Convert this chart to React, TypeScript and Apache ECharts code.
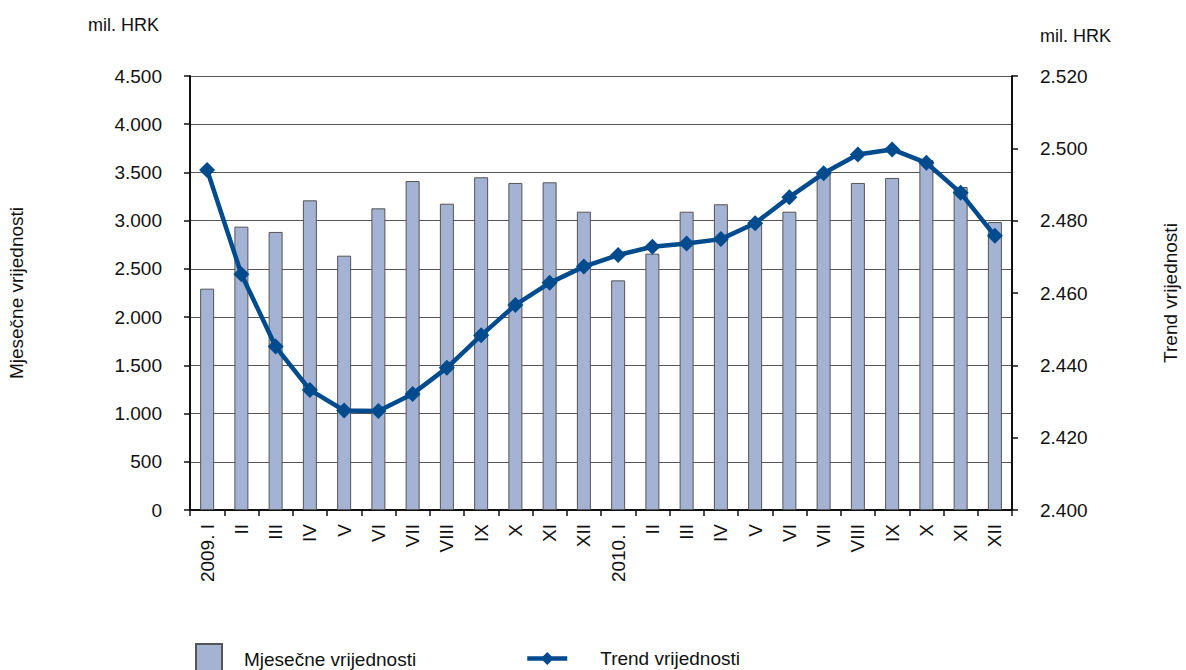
import React, { useEffect, useRef } from "react";
import * as echarts from "echarts";

const categories = [
  "2009. I", "II", "III", "IV", "V", "VI", "VII", "VIII", "IX", "X", "XI", "XII",
  "2010. I", "II", "III", "IV", "V", "VI", "VII", "VIII", "IX", "X", "XI", "XII",
];
const monthlyValues = [
  2295, 2938, 2883, 3211, 2637, 3128, 3411, 3176, 3450, 3391, 3398, 3093,
  2381, 2658, 3093, 3170, 2985, 3093, 3490, 3391, 3443, 3629, 3349, 2986,
];
const trendValues = [
  2494.0, 2465.2, 2445.2, 2433.2, 2427.5, 2427.4, 2432.1, 2439.3, 2448.3, 2456.7, 2462.8, 2467.3,
  2470.5, 2472.8, 2473.7, 2474.9, 2479.3, 2486.5, 2493.1, 2498.3, 2499.7, 2496.0, 2487.7, 2475.8,
];
const seriesNames = ["Mjesečne vrijednosti", "Trend vrijednosti"];
const unitLabel = "mil. HRK";

const FONT = "'Liberation Sans Narrow', 'Liberation Sans', Arial, sans-serif";
const fmt = (v: number) => {
  const s = String(Math.round(v));
  return s.replace(/\B(?=(\d{3})+(?!\d))/g, ".");
};

export default function App() {
  const ref = useRef<HTMLDivElement>(null);
  useEffect(() => {
    if (!ref.current) return;
    const chart = echarts.init(ref.current, null, { renderer: "svg" });
    chart.setOption({
      animation: false,
      backgroundColor: "#ffffff",
      textStyle: { fontFamily: FONT },
      grid: {
        left: 190,
        right: 174,
        top: 76,
        bottom: 160,
        containLabel: false,
        outerBoundsMode: "none",
      },
      legend: [
        {
          data: [{ name: seriesNames[0], icon: "rect" }],
          left: 195,
          top: 643,
          itemWidth: 26,
          itemHeight: 30,
          padding: 0,
          selectedMode: false,
          textStyle: { fontSize: 19, color: "#111", fontFamily: FONT, padding: [0, 0, 0, 17] },
        },
        {
          data: [seriesNames[1]],
          left: 525,
          top: 649,
          itemWidth: 40,
          itemHeight: 16,
          padding: 0,
          selectedMode: false,
          lineStyle: { width: 4.5 },
          textStyle: { fontSize: 19, color: "#111", fontFamily: FONT, padding: [0, 0, 0, 28] },
        },
      ],
      graphic: [
        { type: "text", left: 88, top: 16, style: { text: unitLabel, font: `18px ${FONT}`, fill: "#111" } },
        { type: "text", left: 1040, top: 27, style: { text: unitLabel, font: `18px ${FONT}`, fill: "#111" } },
      ],
      xAxis: {
        type: "category",
        data: categories,
        boundaryGap: true,
        axisLine: { lineStyle: { color: "#111", width: 2 } },
        axisTick: { show: true, alignWithLabel: false, length: 6, lineStyle: { color: "#111", width: 1.5 } },
        axisLabel: {
          interval: 0,
          rotate: 90,
          margin: 14,
          fontSize: 19,
          color: "#111",
          fontFamily: FONT,
        },
      },
      yAxis: [
        {
          type: "value",
          min: 0,
          max: 4500,
          interval: 500,
          name: seriesNames[0],
          nameLocation: "middle",
          nameGap: 164,
          nameRotate: 90,
          nameTextStyle: { fontSize: 19, color: "#111", fontFamily: FONT },
          axisLine: { show: true, lineStyle: { color: "#111", width: 2 } },
          axisTick: { show: true, length: 6, lineStyle: { color: "#111", width: 1.5 } },
          axisLabel: { formatter: fmt, margin: 28, fontSize: 19, color: "#111", fontFamily: FONT },
          splitLine: { show: true, lineStyle: { color: "#555", width: 1.2 } },
        },
        {
          type: "value",
          min: 2400,
          max: 2520,
          interval: 20,
          position: "right",
          name: seriesNames[1],
          nameLocation: "middle",
          nameGap: 149,
          nameRotate: 90,
          nameTextStyle: { fontSize: 19, color: "#111", fontFamily: FONT },
          axisLine: { show: true, lineStyle: { color: "#111", width: 2 } },
          axisTick: { show: true, length: 6, lineStyle: { color: "#111", width: 1.5 } },
          axisLabel: { formatter: fmt, margin: 28, fontSize: 19, color: "#111", fontFamily: FONT },
          splitLine: { show: false },
        },
      ],
      series: [
        {
          name: seriesNames[0],
          type: "bar",
          yAxisIndex: 0,
          data: monthlyValues,
          barWidth: 14,
          itemStyle: { color: "#a4b2d4", borderColor: "#555", borderWidth: 1 },
        },
        {
          name: seriesNames[1],
          type: "line",
          yAxisIndex: 1,
          data: trendValues,
          symbol: "diamond",
          symbolSize: 16,
          lineStyle: { color: "#004b8d", width: 4.5 },
          itemStyle: { color: "#004b8d" },
        },
      ],
    });
    return () => chart.dispose();
  }, []);
  return <div ref={ref} style={{ width: 1186, height: 670, position: "absolute", left: 0, top: 0 }} />;
}
